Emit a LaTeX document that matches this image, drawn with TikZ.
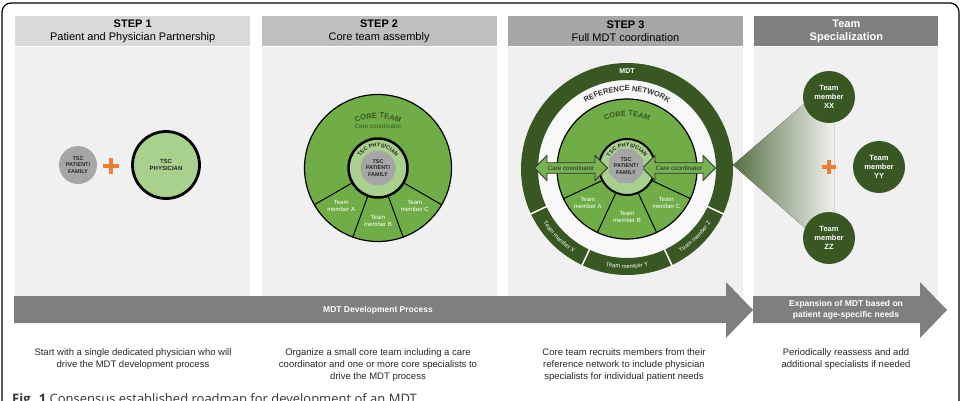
\documentclass[tikz,border=0pt]{standalone}
\usepackage{fontspec}
\setmainfont{Liberation Sans}
\newfontfamily\capfont{Open Sans}
\usepackage{tikz}
\usetikzlibrary{positioning,calc,shapes.geometric,shapes.arrows,decorations.text}

\definecolor{dkgreen}{HTML}{385723}
\definecolor{mdgreen}{HTML}{70AD47}
\definecolor{ltgreen}{HTML}{A9D18E}
\definecolor{pgray}{HTML}{F0F0F0}
\definecolor{hgrayA}{HTML}{D9D9D9}
\definecolor{hgrayB}{HTML}{BFBFBF}
\definecolor{hgrayC}{HTML}{A6A6A6}
\definecolor{hgrayD}{HTML}{7F7F7F}
\definecolor{orng}{HTML}{ED7D31}

\newcommand{\fsz}[2]{\fontsize{#1}{#2}\selectfont}
\newcommand{\ctfont}{\fsz{7.5}{9}\bfseries\color{dkgreen}}
\newcommand{\tsfont}{\fsz{5.5}{6.5}\bfseries\color{black!85}}
\newcommand{\rnfont}{\fsz{7.5}{9}\bfseries\color{black!80}}
\newcommand{\rgfont}{\fsz{5.8}{7}\color{white}}

\begin{document}
\begin{tikzpicture}[
    x=1pt, y=1pt,
    hdr/.style={rectangle, inner sep=0pt, minimum width=235pt, minimum height=30pt, align=center, font=\fsz{11}{13}},
    panel/.style={rectangle, inner sep=0pt, fill=pgray, minimum width=235pt, minimum height=250pt},
    note/.style={anchor=north, align=center, font=\fsz{9.5}{12}, text=black!85},
    patient/.style={circle, fill=hgrayC, inner sep=0pt, align=center, font=\fsz{5.5}{6.5}\bfseries, text=black!85},
    member/.style={circle, fill=dkgreen, minimum size=52pt, inner sep=0pt, align=center, text=white, font=\fsz{7.5}{9}\bfseries},
    seg/.style={text=white, align=center, inner sep=0pt, font=\fsz{6}{7}},
    carrow/.style={double arrow, draw=black!80, line width=0.8pt, fill=mdgreen!85!ltgreen, minimum width=25pt, minimum height=73pt, double arrow head extend=7pt, inner xsep=1pt, inner ysep=2.5pt, font=\fsz{6.2}{7}, text=black!85},
    plus/.style={orng, line width=3.5pt},
    curved/.style={decorate, decoration={text along path, text align=center, text={#1}}}
]
\useasboundingbox (0,0) rectangle (965,-400);
\clip (0,0) rectangle (965,-400);

\node[hdr, fill=hgrayA, anchor=north west] (h1) at (15,-16) {\textbf{STEP 1}\\Patient and Physician Partnership};
\node[hdr, fill=hgrayB, right=11pt of h1] (h2) {\textbf{STEP 2}\\Core team assembly};
\node[hdr, fill=hgrayC, right=11pt of h2] (h3) {\textbf{STEP 3}\\Full MDT coordination};
\node[hdr, fill=hgrayD, minimum width=184pt, right=11pt of h3, text=white, font=\fsz{11}{13}\bfseries] (h4) {Team\\Specialization};
\foreach \i in {1,2,3}
    \node[panel, below=0pt of h\i] (b\i) {};
\node[panel, minimum width=184pt, below=0pt of h4] (b4) {};

\fill[hgrayD] (14,-296) -- (726,-296) -- (726,-282) -- (753,-310) -- (726,-338) -- (726,-323) -- (14,-323) -- cycle;
\fill[hgrayD] (753,-296) -- (920,-296) -- (920,-282) -- (947,-310) -- (920,-338) -- (920,-323) -- (753,-323) -- cycle;
\node[text=white, font=\fsz{8.5}{10}\bfseries] (process) at (378,-310) {MDT Development Process};
\node[text=white, align=center, font=\fsz{8.5}{10.5}\bfseries] (expand) at (846,-310) {Expansion of MDT based on\\patient age-specific needs};

\node[note] (note1) at (133,-345) {Start with a single dedicated physician who will\\drive the MDT development process};
\node[note] (note2) at (378,-345) {Organize a small core team including a care\\coordinator and one or more core specialists to\\drive the MDT process};
\node[note] (note3) at (624,-345) {Core team recruits members from their\\reference network to include physician\\specialists for individual patient needs};
\node[note] (note4) at (846,-345) {Periodically reassess and add\\additional specialists if needed};

\node[patient, minimum size=38pt] (pat1) at (78,-165) {TSC\\PATIENT/\\FAMILY};
\draw[plus] (103,-166) -- (119,-166) (111,-158) -- (111,-174);
\node[circle, fill=ltgreen, draw=black, line width=2.8pt, minimum size=67pt, align=center, font=\fsz{6}{7.5}\bfseries, text=black!85] (phys1) at (166,-165) {TSC\\PHYSICIAN};

\coordinate (c2) at (378,-168);
\node[circle, fill=mdgreen, draw=black, line width=1.2pt, minimum size=147pt] (core2) at (c2) {};
\foreach \a in {210,250,290,330}
    \draw[line width=1pt] (c2) ++(\a:30) -- ++(\a:44);
\foreach \a/\t in {226/A,270/B,314/C}
    \node[seg] (tm2\t) at ($(c2)+(\a:53)$) {Team\\member \t};
\path[curved={|\ctfont|CORE TEAM}] (c2) ++(140:50) arc[start angle=140, end angle=40, radius=50];
\node[font=\fsz{6.3}{7}, text=dkgreen] (coord2) at (378,-126) {Care coordinator};
\node[circle, fill=ltgreen, draw=black, line width=2.5pt, minimum size=59pt] (phys2) at (c2) {};
\path[curved={|\tsfont|TSC PHYSICIAN}] (c2) ++(150:21) arc[start angle=150, end angle=30, radius=21];
\node[patient, minimum size=35pt] (pat2) at (378,-168) {TSC\\PATIENT/\\FAMILY};

\coordinate (c3) at (627,-169);
\fill[left color=dkgreen!85!white, right color=pgray] (733,-165) -- (805,-103) -- (834,-116) -- (834,-214) -- (805,-228) -- cycle;
\fill[white!50!pgray] (c3) circle (89);
\fill[dkgreen, even odd rule] (c3) circle (106) circle (89);
\foreach \a in {205,245,295,335}
    \draw[white, line width=1.5pt] (c3) ++(\a:88) -- ++(\a:19);
\path[curved={|\rgfont|Team member X}] (c3) ++(203:99.5) arc[start angle=203, end angle=247, radius=99.5];
\path[curved={|\rgfont|Team member Y}] (c3) ++(248:99.5) arc[start angle=248, end angle=292, radius=99.5];
\path[curved={|\rgfont|Team member Z}] (c3) ++(293:99.5) arc[start angle=293, end angle=337, radius=99.5];
\node[text=white, font=\fsz{7}{8}\bfseries] (mdt) at ($(c3)+(90:98)$) {MDT};
\path[curved={|\rnfont|REFERENCE NETWORK}] (c3) ++(145:78) arc[start angle=145, end angle=35, radius=78];
\node[circle, fill=mdgreen, draw=black, line width=1.2pt, minimum size=140pt] (core3) at (c3) {};
\foreach \a in {205,245,295,335}
    \draw[line width=1pt] (c3) ++(\a:27) -- ++(\a:43);
\foreach \a/\r/\t in {221/52/A,270/48/B,319/52/C}
    \node[seg] (tm3\t) at ($(c3)+(\a:\r)$) {Team\\member \t};
\path[curved={|\ctfont|CORE TEAM}] (c3) ++(140:53) arc[start angle=140, end angle=40, radius=53];
\node[circle, fill=ltgreen, draw=black, line width=2pt, minimum size=56pt] (phys3) at ($(c3)+(0,2)$) {};
\path[curved={|\tsfont|TSC PHYSICIAN}] (phys3.center) ++(150:20) arc[start angle=150, end angle=30, radius=20];
\node[carrow] (coordL) at ($(c3)+(-56,1)$) {Care coordinator};
\node[carrow] (coordR) at ($(c3)+(52,1)$) {Care coordinator};
\node[patient, regular polygon, regular polygon sides=8, minimum size=34pt] (pat3) at ($(c3)+(-1,3)$) {TSC\\PATIENT/\\FAMILY};

\node[member] (xx) at (829,-97) {Team\\member\\XX};
\node[member] (yy) at (879,-167) {Team\\member\\YY};
\node[member] (zz) at (829,-238) {Team\\member\\ZZ};
\draw[plus] (822,-167) -- (836,-167) (829,-160) -- (829,-174);

\draw[line width=1.2pt, rounded corners=9pt] (2,-420) -- (2,-3) -- (959,-3) -- (959,-420);
\node[anchor=north west, inner sep=0pt, font=\capfont\fsz{13}{15}, text=black!80] (caption) at (12,-393) {\textbf{Fig. 1} Consensus established roadmap for development of an MDT};
\end{tikzpicture}
\end{document}
